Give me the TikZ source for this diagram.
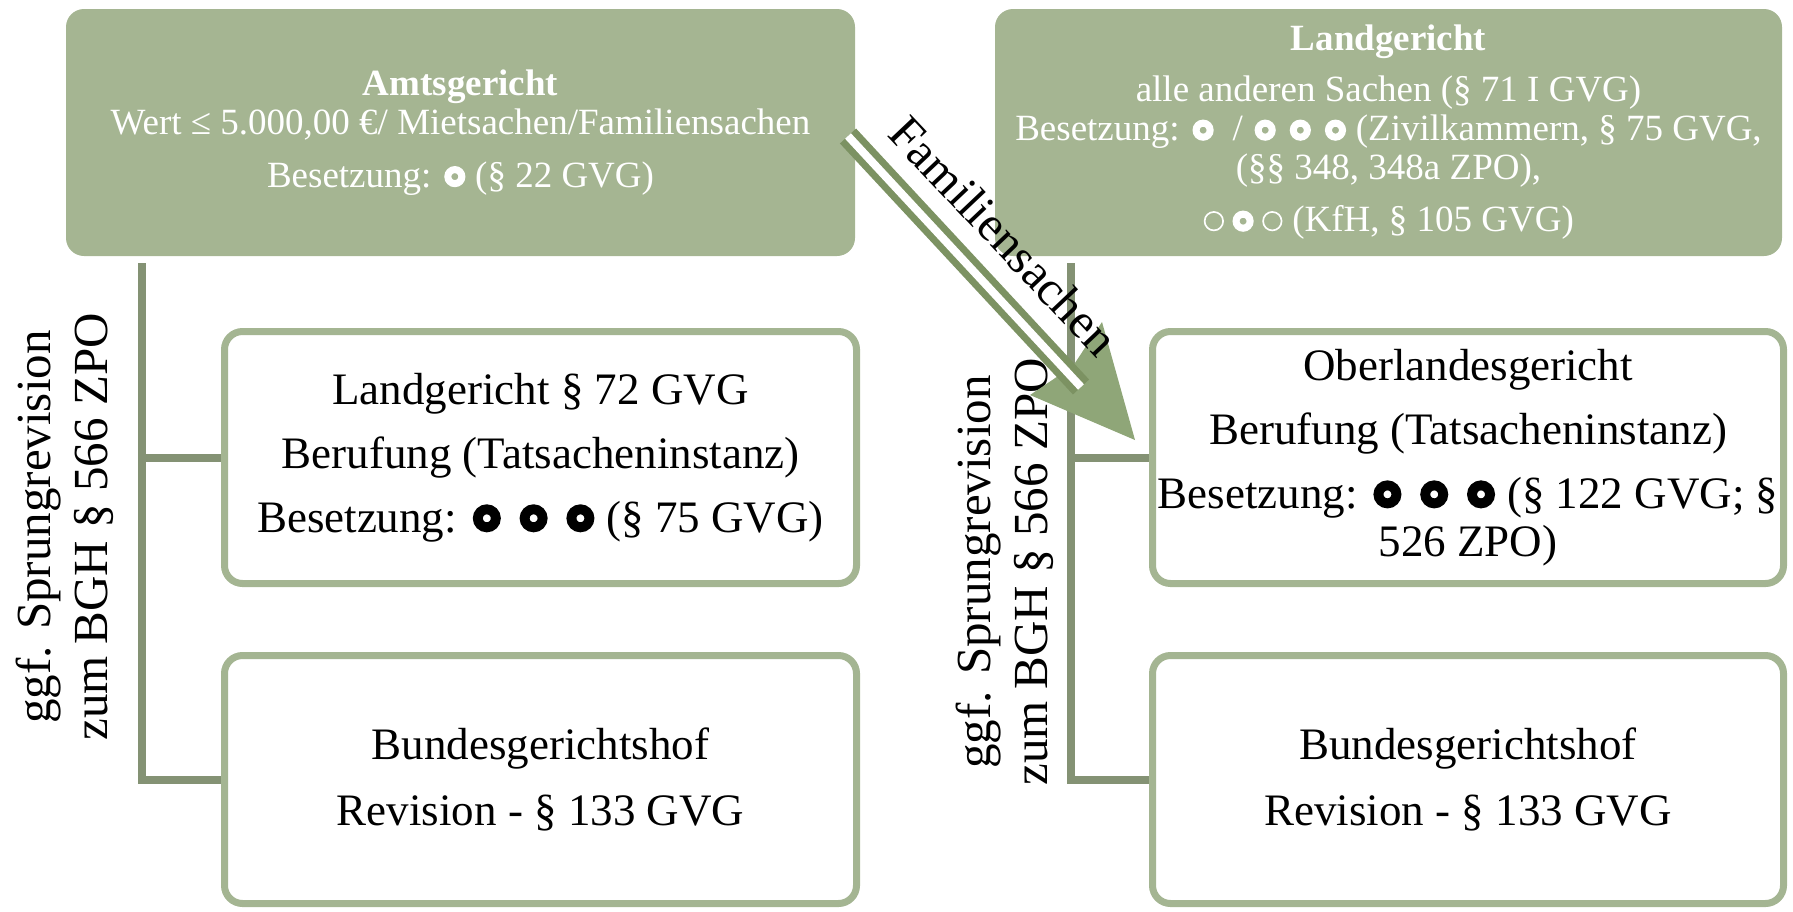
\documentclass[tikz,border=0pt]{standalone}
\usepackage{fontspec}
\setmainfont{Liberation Serif}
\definecolor{sage}{RGB}{165,181,146}
\definecolor{sageborder}{RGB}{164,181,146}
\definecolor{linegreen}{RGB}{132,146,116}
\definecolor{arrowgreen}{RGB}{124,146,98}
\definecolor{headgreen}{RGB}{143,166,120}
% big bold ring (white boxes)
\newcommand{\ringB}[1][black]{\tikz[baseline=0pt]{\path (0em,0pt) (0.66em,0pt); \draw[#1,line width=0.22em] (0.33em,0.31em) circle (0.2em);}}
% small bold ring (green boxes)
\newcommand{\ringS}[1][white]{\tikz[baseline=0pt]{\path (0em,0pt) (0.6em,0pt); \draw[#1,line width=0.19em] (0.3em,0.29em) circle (0.19em);}}
% thin ring
\newcommand{\ringT}[1][white]{\tikz[baseline=0pt]{\path (0em,0pt) (0.58em,0pt); \draw[#1,line width=0.045em] (0.29em,0.29em) circle (0.25em);}}
\tikzset{
  topbox/.style={fill=sage, rounded corners=18pt, text=white, align=center, inner sep=0pt,
    font=\fontsize{37}{39}\selectfont},
  whitebox/.style={draw=sageborder, line width=7pt, fill=white, rounded corners=18pt,
    align=center, inner sep=0pt, text=black, font=\fontsize{45}{48}\selectfont},
  conn/.style={draw=linegreen, line width=8pt, line join=miter},
  sidelabel/.style={rotate=90, align=center, inner sep=0pt, font=\fontsize{49}{57}\selectfont},
  famlabel/.style={rotate=-46.6, inner sep=0pt, font=\fontsize{49}{52}\selectfont},
}
\begin{document}
\begin{tikzpicture}[x=1pt,y=-1pt]
\useasboundingbox (0,0) rectangle (1793,911);
% connectors
\coordinate (ltop) at (142,263);
\coordinate (rtop) at (1071,263);
% boxes
\node[topbox, minimum width=789pt, minimum height=247pt] (amt) at (460.5,132.5)
  {\textbf{Amtsgericht}\\ Wert ≤ 5.000,00 €/ Mietsachen/Familiensachen\\[14pt]
   Besetzung: \ringS{} (§ 22 GVG)};
\node[topbox, minimum width=787pt, minimum height=247pt] (lg) at (1388.5,132.5)
  {\textbf{Landgericht}\\[12pt] alle anderen Sachen (§ 71 I GVG)\\
   Besetzung: \ringS\hspace{0.5em}/\hspace{0.3em}\ringS\hspace{0.35em}\ringS\hspace{0.35em}\ringS{} (Zivilkammern, § 75 GVG,\\
   (§§ 348, 348a ZPO),\\[13pt]
   \ringT\hspace{0.2em}\ringS\hspace{0.2em}\ringT{} (KfH, § 105 GVG)};
\node[whitebox, minimum width=632pt, minimum height=252pt] (lg72) at (540.5,457.5)
  {Landgericht § 72 GVG\\[16pt] Berufung (Tatsacheninstanz)\\[16pt]
   Besetzung: \ringB\hspace{0.38em}\ringB\hspace{0.38em}\ringB{} (§ 75 GVG)};
\node[whitebox, minimum width=632pt, minimum height=248pt] (bgh1) at (540.5,779.5)
  {Bundesgerichtshof\\[18pt] Revision - § 133 GVG};
\node[whitebox, minimum width=631pt, minimum height=252pt] (olg) at (1468,457.5)
  {Oberlandesgericht\\[16pt] Berufung (Tatsacheninstanz)\\[16pt]
   Besetzung: \ringB\hspace{0.38em}\ringB\hspace{0.38em}\ringB{} (§ 122 GVG; §\\ 526 ZPO)};
\node[whitebox, minimum width=631pt, minimum height=248pt] (bgh2) at (1468,779.5)
  {Bundesgerichtshof\\[18pt] Revision - § 133 GVG};
% connector lines
\draw[conn] (ltop) |- (bgh1.west);
\draw[conn] (ltop |- lg72.west) -- (lg72.west);
\draw[conn] (rtop) |- (bgh2.west);
\draw[conn] (rtop |- olg.west) -- (olg.west);
% side labels
\node[sidelabel] (sl) at (65,527) {ggf. Sprungrevision\\ zum BGH § 566 ZPO};
\node[sidelabel] (sr) at (1005,572) {ggf. Sprungrevision\\ zum BGH § 566 ZPO};
% Familiensachen arrow
\coordinate (fs) at (848,136);
\coordinate (fe) at (1081,387);
\coordinate (hb1) at (1030,395);
\coordinate (htip) at (1135,440);
\coordinate (hb2) at (1102,322);
\coordinate (hn) at (1073,366);
\fill[headgreen] (hb1) -- (htip) -- (hb2) -- (hn) -- cycle;
\draw[draw=arrowgreen, line width=7pt, double=white, double distance=8pt] (fs) -- (fe);
\node[famlabel] (fam) at (1004,236) {Familiensachen};
\end{tikzpicture}
\end{document}
